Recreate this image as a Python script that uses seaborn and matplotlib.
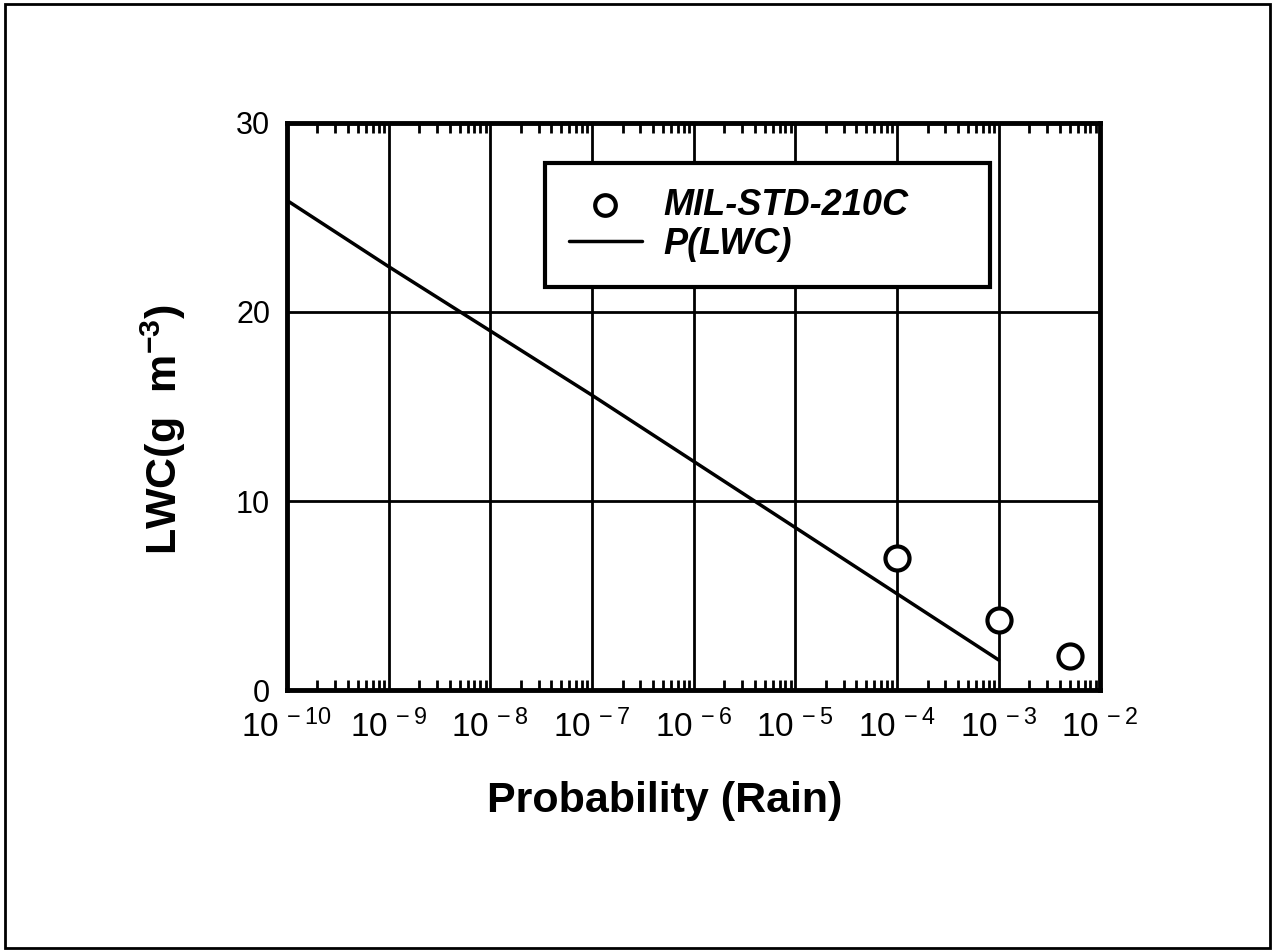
import matplotlib
matplotlib.use("Agg")
import matplotlib.pyplot as plt
import matplotlib.ticker as mticker
from matplotlib.patches import Rectangle
import seaborn as sns
import pandas as pd

# Datos
prob_linea = [1e-10, 1e-9, 1e-8, 1e-7, 1e-6, 1e-5, 1e-4, 1e-3]
lwc_linea = [25.9, 22.4, 19.0, 15.6, 12.1, 8.6, 5.1, 1.6]

prob_mil = [1e-4, 1e-3, 5e-3]
lwc_mil = [7.0, 3.7, 1.8]

ticks_x = [1e-10, 1e-9, 1e-8, 1e-7, 1e-6, 1e-5, 1e-4, 1e-3, 1e-2]
etiquetas_x = [r"$\mathregular{10^{\,-10}}$", r"$\mathregular{10^{\,-9}}$",
               r"$\mathregular{10^{\,-8}}$", r"$\mathregular{10^{\,-7}}$",
               r"$\mathregular{10^{\,-6}}$", r"$\mathregular{10^{\,-5}}$",
               r"$\mathregular{10^{\,-4}}$", r"$\mathregular{10^{\,-3}}$",
               r"$\mathregular{10^{\,-2}}$"]
ticks_y = [0, 10, 20, 30]

df_linea = pd.DataFrame({"prob": prob_linea, "lwc": lwc_linea})
df_mil = pd.DataFrame({"prob": prob_mil, "lwc": lwc_mil})

sns.set_style("ticks")
plt.rcParams["font.family"] = ["Liberation Sans", "DejaVu Sans"]
plt.rcParams["mathtext.fontset"] = "custom"
plt.rcParams["mathtext.rm"] = "Liberation Sans"
plt.rcParams["text.color"] = "black"
plt.rcParams["axes.labelcolor"] = "black"
plt.rcParams["xtick.color"] = "black"
plt.rcParams["ytick.color"] = "black"

fig = plt.figure(figsize=(12.75, 9.52), dpi=100)
ax = fig.add_axes([0.225, 0.275, 0.638, 0.596])

sns.lineplot(data=df_linea, x="prob", y="lwc", ax=ax, color="black",
             linewidth=2.5, label="P(LWC)")
sns.scatterplot(data=df_mil, x="prob", y="lwc", ax=ax, marker="o",
                s=300, facecolor="white", edgecolor="black", linewidth=3,
                label="MIL-STD-210C", zorder=5)

ax.set_xscale("log")
ax.set_xlim(1e-10, 1e-2)
ax.set_ylim(0, 30)
ax.set_xticks(ticks_x)
ax.xaxis.set_major_formatter(mticker.FixedFormatter(etiquetas_x))
ax.xaxis.set_minor_locator(mticker.LogLocator(base=10, subs=range(2, 10), numticks=20))
ax.xaxis.set_minor_formatter(mticker.NullFormatter())
ax.set_yticks(ticks_y)

ax.grid(True, which="major", color="black", linewidth=2)
ax.tick_params(axis="x", which="both", direction="in", top=True, bottom=True)
ax.tick_params(axis="x", which="major", length=0, labelsize=24, pad=14)
ax.tick_params(axis="x", which="minor", length=7, width=2)
ax.tick_params(axis="y", which="major", length=0, labelsize=22, pad=12)
for sp in ax.spines.values():
    sp.set_visible(True)
    sp.set_linewidth(3.5)
    sp.set_color("black")

ax.set_xlabel("Probability (Rain)", fontsize=31, fontweight="bold")
ax.xaxis.set_label_coords(0.464, -0.16)
ax.set_ylabel(r"LWC(g  m$\mathregular{^{-3}}$)", fontsize=31, fontweight="bold")
ax.yaxis.set_label_coords(-0.122, 0.46)

handles, labels = ax.get_legend_handles_labels()
orden = [labels.index("MIL-STD-210C"), labels.index("P(LWC)")]
leg = ax.legend([handles[i] for i in orden], [labels[i] for i in orden],
                loc="upper left", bbox_to_anchor=(0.317, 0.929 - 0.225, 0.547, 0.225),
                mode="expand",
                frameon=True, fancybox=False, framealpha=1, edgecolor="black",
                prop={"size": 26, "style": "italic", "weight": "bold"},
                borderpad=0.68, handlelength=2.0, labelspacing=0.12,
                handletextpad=0.6, borderaxespad=0)
leg.get_frame().set_linewidth(3)
leg.legend_handles[0].set_sizes([220])

# Marco exterior de la figura
fig.patches.append(Rectangle((0.004, 0.004), 0.992, 0.992, transform=fig.transFigure,
                             fill=False, edgecolor="black", linewidth=2))

fig.savefig("out.png", dpi=100, facecolor="white")
